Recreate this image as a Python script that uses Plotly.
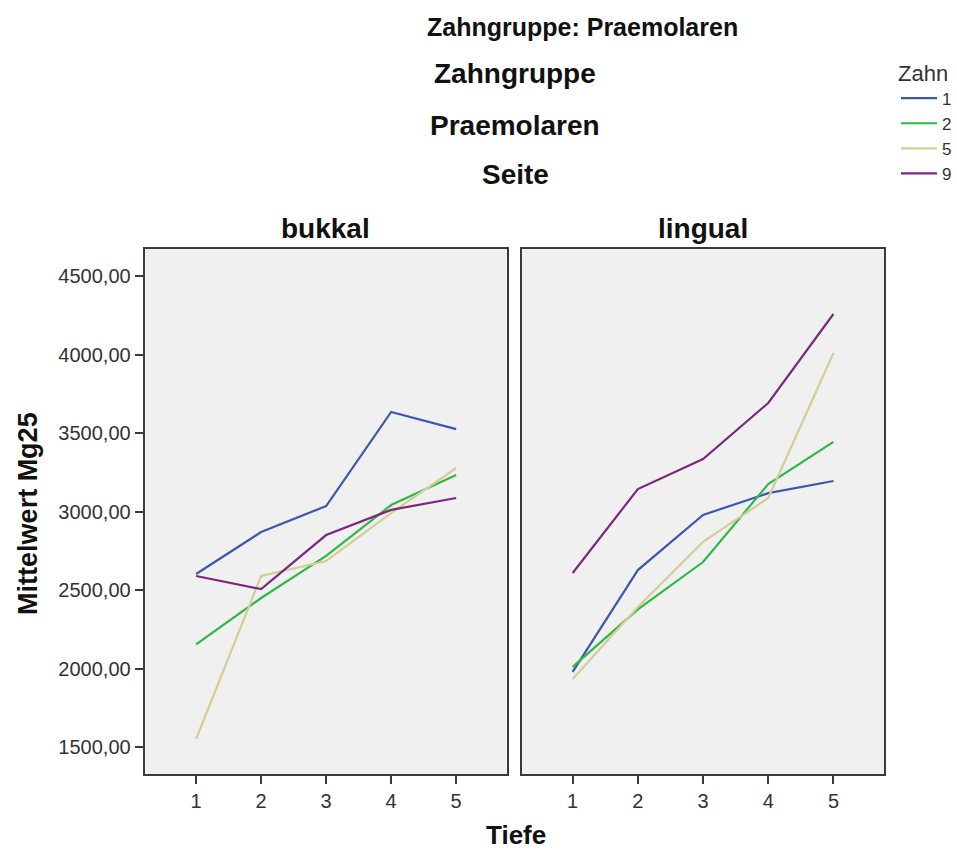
import plotly.graph_objects as go

tiefe = [1, 2, 3, 4, 5]
zahn_labels = ["1", "2", "5", "9"]
colors = ["#3E58AC", "#2EB848", "#D3CE97", "#7C287D"]

# Mittelwert Mg25, Seite = bukkal
bukkal = {
    "1": [2602, 2869, 3035, 3634, 3525],
    "2": [2153, 2449, 2717, 3041, 3232],
    "5": [1551, 2589, 2685, 2990, 3277],
    "9": [2589, 2506, 2850, 3010, 3086],
}
# Mittelwert Mg25, Seite = lingual
lingual = {
    "1": [1978, 2627, 2978, 3117, 3194],
    "2": [2010, 2377, 2678, 3175, 3443],
    "5": [1933, 2392, 2806, 3086, 4010],
    "9": [2608, 3143, 3334, 3691, 4258],
}
y_ticks = [1500, 2000, 2500, 3000, 3500, 4000, 4500]

W, H = 957, 850
FONT = "Liberation Sans, Arial, sans-serif"

fig = go.Figure()
for i, z in enumerate(zahn_labels):
    fig.add_trace(go.Scatter(x=tiefe, y=bukkal[z], mode="lines", name=z,
                             line=dict(color=colors[i], width=2.2),
                             xaxis="x", yaxis="y", legendgroup=z))
for i, z in enumerate(zahn_labels):
    fig.add_trace(go.Scatter(x=tiefe, y=lingual[z], mode="lines", name=z,
                             line=dict(color=colors[i], width=2.2),
                             xaxis="x2", yaxis="y2", legendgroup=z, showlegend=False))

def px(x):
    return x / W

def py(y):
    return 1 - y / H

axcol = "#3a3a3a"
tickfont = dict(family=FONT, size=20, color="#333")
common_x = dict(range=[0.22, 5.78], tickvals=tiefe, ticks="outside", ticklen=8,
                tickwidth=1.5, tickcolor=axcol, showline=True, linecolor=axcol,
                linewidth=1.5, mirror=True, showgrid=False, zeroline=False,
                tickfont=tickfont)
common_y = dict(range=[1328, 4672], tickvals=y_ticks, showline=True, linecolor=axcol,
                linewidth=1.5, mirror=True, showgrid=False, zeroline=False,
                domain=[py(774), py(249)])

fig.update_layout(
    width=W, height=H, margin=dict(l=0, r=0, t=0, b=0),
    paper_bgcolor="white", plot_bgcolor="#F0F0F0",
    separators=",.",
    xaxis=dict(domain=[px(146), px(509)], anchor="y", **common_x),
    xaxis2=dict(domain=[px(524), px(888)], anchor="y2", **common_x),
    yaxis=dict(anchor="x", ticks="outside", ticklen=9, tickwidth=1.5, tickcolor=axcol,
               tickformat=".2f", tickfont=tickfont, **common_y),
    yaxis2=dict(anchor="x2", showticklabels=False, ticks="", **common_y),
    legend=dict(x=px(900), y=py(52), xanchor="left", yanchor="top",
                title=dict(text="Zahn", font=dict(family=FONT, size=22, color="#333")),
                font=dict(family=FONT, size=17, color="#333"),
                bgcolor="rgba(0,0,0,0)", itemwidth=36, tracegroupgap=0),
    showlegend=True,
)

def ann(text, x, y, size, bold=True, angle=0):
    fig.add_annotation(text=f"<b>{text}</b>" if bold else text, x=px(x), y=py(y),
                       xref="paper", yref="paper", xanchor="center", yanchor="middle",
                       showarrow=False, textangle=angle,
                       font=dict(family=FONT, size=size, color="#111"))

ann("Zahngruppe: Praemolaren", 585, 27, 25)
ann("Zahngruppe", 517, 74, 28)
ann("Praemolaren", 517, 126, 28)
ann("Seite", 518, 175, 28)
ann("bukkal", 327, 228, 28)
ann("lingual", 706, 228, 28)
ann("Mittelwert Mg25", 28, 513, 27, angle=-90)
ann("Tiefe", 518, 835, 26)

fig.write_html("out.html")
